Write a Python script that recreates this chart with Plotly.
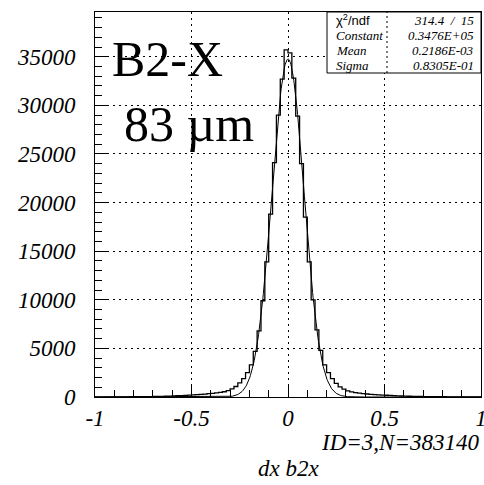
import numpy as np
import plotly.graph_objects as go

# Histogram of dx (b2x), 100 bins of width 0.02 on [-1, 1]
bin_lo, bin_hi, bin_w = -1.0, 1.0, 0.02

# counts for bins left of zero, listed from the centre outwards (-0.01, -0.03, ...)
counts_left = [35700, 32700, 29000, 24100, 18800, 13900, 9900, 6800, 4700, 3300,
               2500, 1900, 1450, 1080, 830, 650, 540, 470, 420, 380,
               340, 305, 275, 245, 220, 195, 170, 150, 130, 112,
               96, 82, 70, 60, 52, 45, 40, 35, 31, 28,
               25, 23, 21, 19, 17, 16, 15, 14, 13, 12]
# counts for bins right of zero, from the centre outwards (0.01, 0.03, ...)
counts_right = [35400, 32800, 28900, 24000, 18500, 13900, 10000, 6900, 4800, 3300,
                2500, 1900, 1400, 1050, 800, 620, 520, 450, 400, 350,
                310, 280, 250, 225, 200, 180, 160, 140, 120, 105,
                90, 78, 67, 58, 50, 44, 38, 34, 30, 27,
                24, 22, 20, 18, 16, 15, 14, 13, 12, 11]

# Gaussian fit parameters
fit_const = 0.3476e5
fit_mean = 0.2186e-3
fit_sigma = 0.8305e-1
chi2, ndf = 314.4, 15
hist_id, n_entries = 3, 383140

x_ticks = [-1, -0.5, 0, 0.5, 1]
x_tick_text = ["-1", "-0.5", "0", "0.5", "1"]
y_ticks = [0, 5000, 10000, 15000, 20000, 25000, 30000, 35000]
y_tick_text = [str(v) for v in y_ticks]

counts = counts_left[::-1] + counts_right
edges = np.round(np.arange(bin_lo, bin_hi + bin_w / 2, bin_w), 4)

# step outline: start from zero at the first edge
step_x = [edges[0]] + list(edges[:-1]) + [edges[-1], edges[-1]]
step_y = [0] + counts + [counts[-1], 0]

xf = np.linspace(bin_lo, bin_hi, 801)
yf = fit_const * np.exp(-0.5 * ((xf - fit_mean) / fit_sigma) ** 2)

fig = go.Figure()
fig.add_trace(go.Scatter(x=step_x, y=step_y, mode="lines", line_shape="hv",
                         line=dict(color="black", width=1.3), hoverinfo="skip"))
fig.add_trace(go.Scatter(x=xf, y=yf, mode="lines",
                         line=dict(color="black", width=1), hoverinfo="skip"))

# plot area geometry in pixels
L, T, W, H = 95, 12, 386, 385


def px(xp):
    return (xp - L) / W


def py(yp):
    return (T + H - yp) / H


serif = "Liberation Serif"
tick_font = dict(family=serif, size=23, style="italic", color="black")

axis_common = dict(
    ticks="inside", ticklen=13, tickcolor="black", tickwidth=1,
    showline=True, linecolor="black", linewidth=1, mirror=True,
    showgrid=True, gridcolor="black", griddash="2px,4px", gridwidth=1,
    zeroline=False, tickfont=tick_font, ticklabeloverflow="allow",
    automargin=False,
)

fig.update_xaxes(range=[bin_lo, bin_hi], tickvals=x_ticks, ticktext=x_tick_text,
                 minor=dict(dtick=0.1, tick0=0, ticks="inside", ticklen=7,
                            tickcolor="black", showgrid=False),
                 **axis_common)
fig.update_yaxes(range=[0, 39600], tickvals=y_ticks, ticktext=y_tick_text,
                 ticklabelstandoff=14,
                 minor=dict(dtick=1000, tick0=0, ticks="inside", ticklen=7,
                            tickcolor="black", showgrid=False),
                 **axis_common)

# statistics box
box_l, box_t, box_b, box_div = 327, 12, 73, 387
fig.add_shape(type="rect", xref="paper", yref="paper",
              x0=px(box_l), x1=1, y0=py(box_b), y1=py(box_t),
              line=dict(color="black", width=1), fillcolor="white", layer="above")
fig.add_shape(type="line", xref="paper", yref="paper",
              x0=px(box_div), x1=px(box_div), y0=py(box_b), y1=py(box_t),
              line=dict(color="black", width=1, dash="2px,3px"), layer="above")

stat_rows = [
    ("χ<sup>2</sup>/ndf", f"{chi2}  /  {ndf}", "sans"),
    ("Constant", "0.3476E+05", "serif"),
    ("Mean", "0.2186E-03", "serif"),
    ("Sigma", "0.8305E-01", "serif"),
]
row_y = [20, 35, 50, 65]
for (lab, val, kind), yy in zip(stat_rows, row_y):
    if kind == "sans":
        lf = dict(family="Liberation Sans", size=13, color="black")
    else:
        lf = dict(family=serif, size=13, style="italic", color="black")
    fig.add_annotation(x=px(334), y=py(yy), xref="paper", yref="paper",
                       text=lab, showarrow=False, xanchor="left", yanchor="middle",
                       font=lf)
    fig.add_annotation(x=px(476), y=py(yy), xref="paper", yref="paper",
                       text=val, showarrow=False, xanchor="right", yanchor="middle",
                       font=dict(family=serif, size=13, style="italic", color="black"))

# large labels inside the frame
big = dict(family=serif, size=50, color="black")
fig.add_annotation(x=px(110), y=py(59), xref="paper", yref="paper", text="B2-X",
                   showarrow=False, xanchor="left", yanchor="middle", font=big)
fig.add_annotation(x=px(122), y=py(124), xref="paper", yref="paper", text="83 µm",
                   showarrow=False, xanchor="left", yanchor="middle", font=big)

# histogram identifier and axis title below the frame
fig.add_annotation(x=1.0, y=py(442), xref="paper", yref="paper",
                   text=f"ID={hist_id},N={n_entries}", showarrow=False,
                   xanchor="right", yanchor="middle", font=tick_font)
fig.add_annotation(x=px(288), y=py(468), xref="paper", yref="paper",
                   text="dx b2x", showarrow=False,
                   xanchor="center", yanchor="middle", font=tick_font)

fig.update_layout(width=484, height=485,
                  margin=dict(l=L, r=484 - L - W, t=T, b=485 - T - H),
                  plot_bgcolor="white", paper_bgcolor="white",
                  showlegend=False)

fig.write_html("out.html")
